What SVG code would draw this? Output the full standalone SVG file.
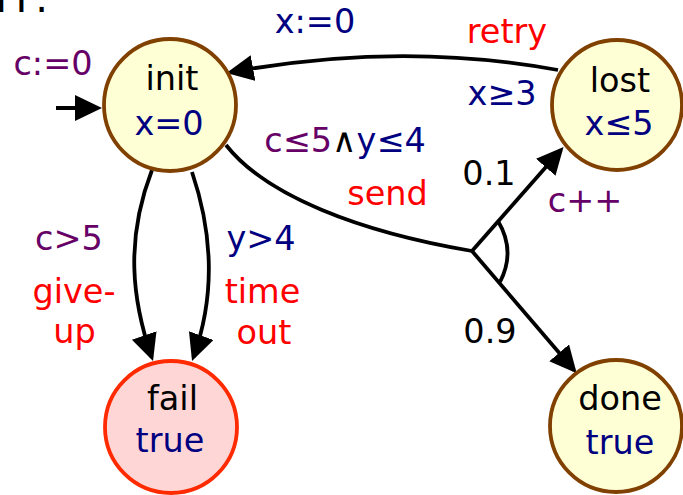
<svg xmlns="http://www.w3.org/2000/svg" width="683" height="495" viewBox="0 0 683 495">
  <style>
    text { font-family: "DejaVu Sans", "Liberation Sans", sans-serif; font-size: 33.5px; text-anchor: middle; }
    .state { fill: #ffffd6; stroke: #804000; stroke-width: 3.8; }
    .failstate { fill: #ffd6d6; stroke: #ff2a00; stroke-width: 3.8; }
    .edge { fill: none; stroke: #000; stroke-width: 3.8; }
    .name { fill: #000; }
    .clock { fill: #000080; }
    .counter { fill: #660066; }
    .action { fill: #ff0000; }
    .prob { fill: #000; }
  </style>
  <defs>
    <marker id="arrow" markerUnits="userSpaceOnUse" markerWidth="30" markerHeight="30" refX="23" refY="13" orient="auto">
      <path d="M0,0 L27,13 L0,26 z" fill="#000"/>
    </marker>
  </defs>

  <!-- heading line, cut off by the top edge -->
  <text x="-11" y="12" style="font-size:40px; text-anchor:start; letter-spacing:2px" fill="#000">TP.</text>

  <!-- transitions -->
  <g id="edges">
    <path class="edge" d="M56,108 L98,108" marker-end="url(#arrow)"/>
    <path class="edge" d="M558,70 Q400,41 230.4,72.3" marker-end="url(#arrow)"/>
    <path class="edge" d="M226,145 C266,196 360,232 472,251"/>
    <path class="edge" d="M472,251 L560.9,150" marker-end="url(#arrow)"/>
    <path class="edge" d="M472,251 L574.1,370.3" marker-end="url(#arrow)"/>
    <path class="edge" d="M498,221 Q516,251 500,282"/>
    <path class="edge" d="M152,170 C125,240 132,300 151.7,357.2" marker-end="url(#arrow)"/>
    <path class="edge" d="M192,172 C215,240 214,300 193.4,357.2" marker-end="url(#arrow)"/>
  </g>

  <!-- edge labels -->
  <g id="labels">
    <text class="counter" x="53" y="75">c:=0</text>
    <text class="clock" x="315" y="33">x:=0</text>
    <text class="action" x="507" y="43">retry</text>
    <text class="clock" x="502" y="105">x≥3</text>
    <text x="345" y="152"><tspan class="counter">c≤5</tspan><tspan class="name">∧</tspan><tspan class="clock">y≤4</tspan></text>
    <text class="prob" x="489" y="185">0.1</text>
    <text class="action" x="387.5" y="205">send</text>
    <text class="counter" x="585" y="212">c++</text>
    <text class="counter" x="69" y="250">c&gt;5</text>
    <text class="clock" x="261" y="250">y&gt;4</text>
    <text class="action" x="74" y="303">give-</text>
    <text class="action" x="74.5" y="343">up</text>
    <text class="action" x="262.5" y="303">time</text>
    <text class="action" x="264" y="344">out</text>
    <text class="prob" x="490" y="343">0.9</text>
  </g>

  <g id="init">
    <circle class="state" cx="170" cy="105" r="66"/>
    <text class="name" x="172" y="90">init</text>
    <text class="clock" x="169" y="135">x=0</text>
  </g>

  <g id="lost">
    <circle class="state" cx="617" cy="105" r="65"/>
    <text class="name" x="620" y="92">lost</text>
    <text class="clock" x="619" y="135">x≤5</text>
  </g>

  <g id="fail">
    <circle class="failstate" cx="171" cy="427" r="66"/>
    <text class="name" x="172.5" y="410">fail</text>
    <text class="clock" x="170" y="452">true</text>
  </g>

  <g id="done">
    <circle class="state" cx="616" cy="426" r="66"/>
    <text class="name" x="620" y="410">done</text>
    <text class="clock" x="620" y="454">true</text>
  </g>
</svg>
